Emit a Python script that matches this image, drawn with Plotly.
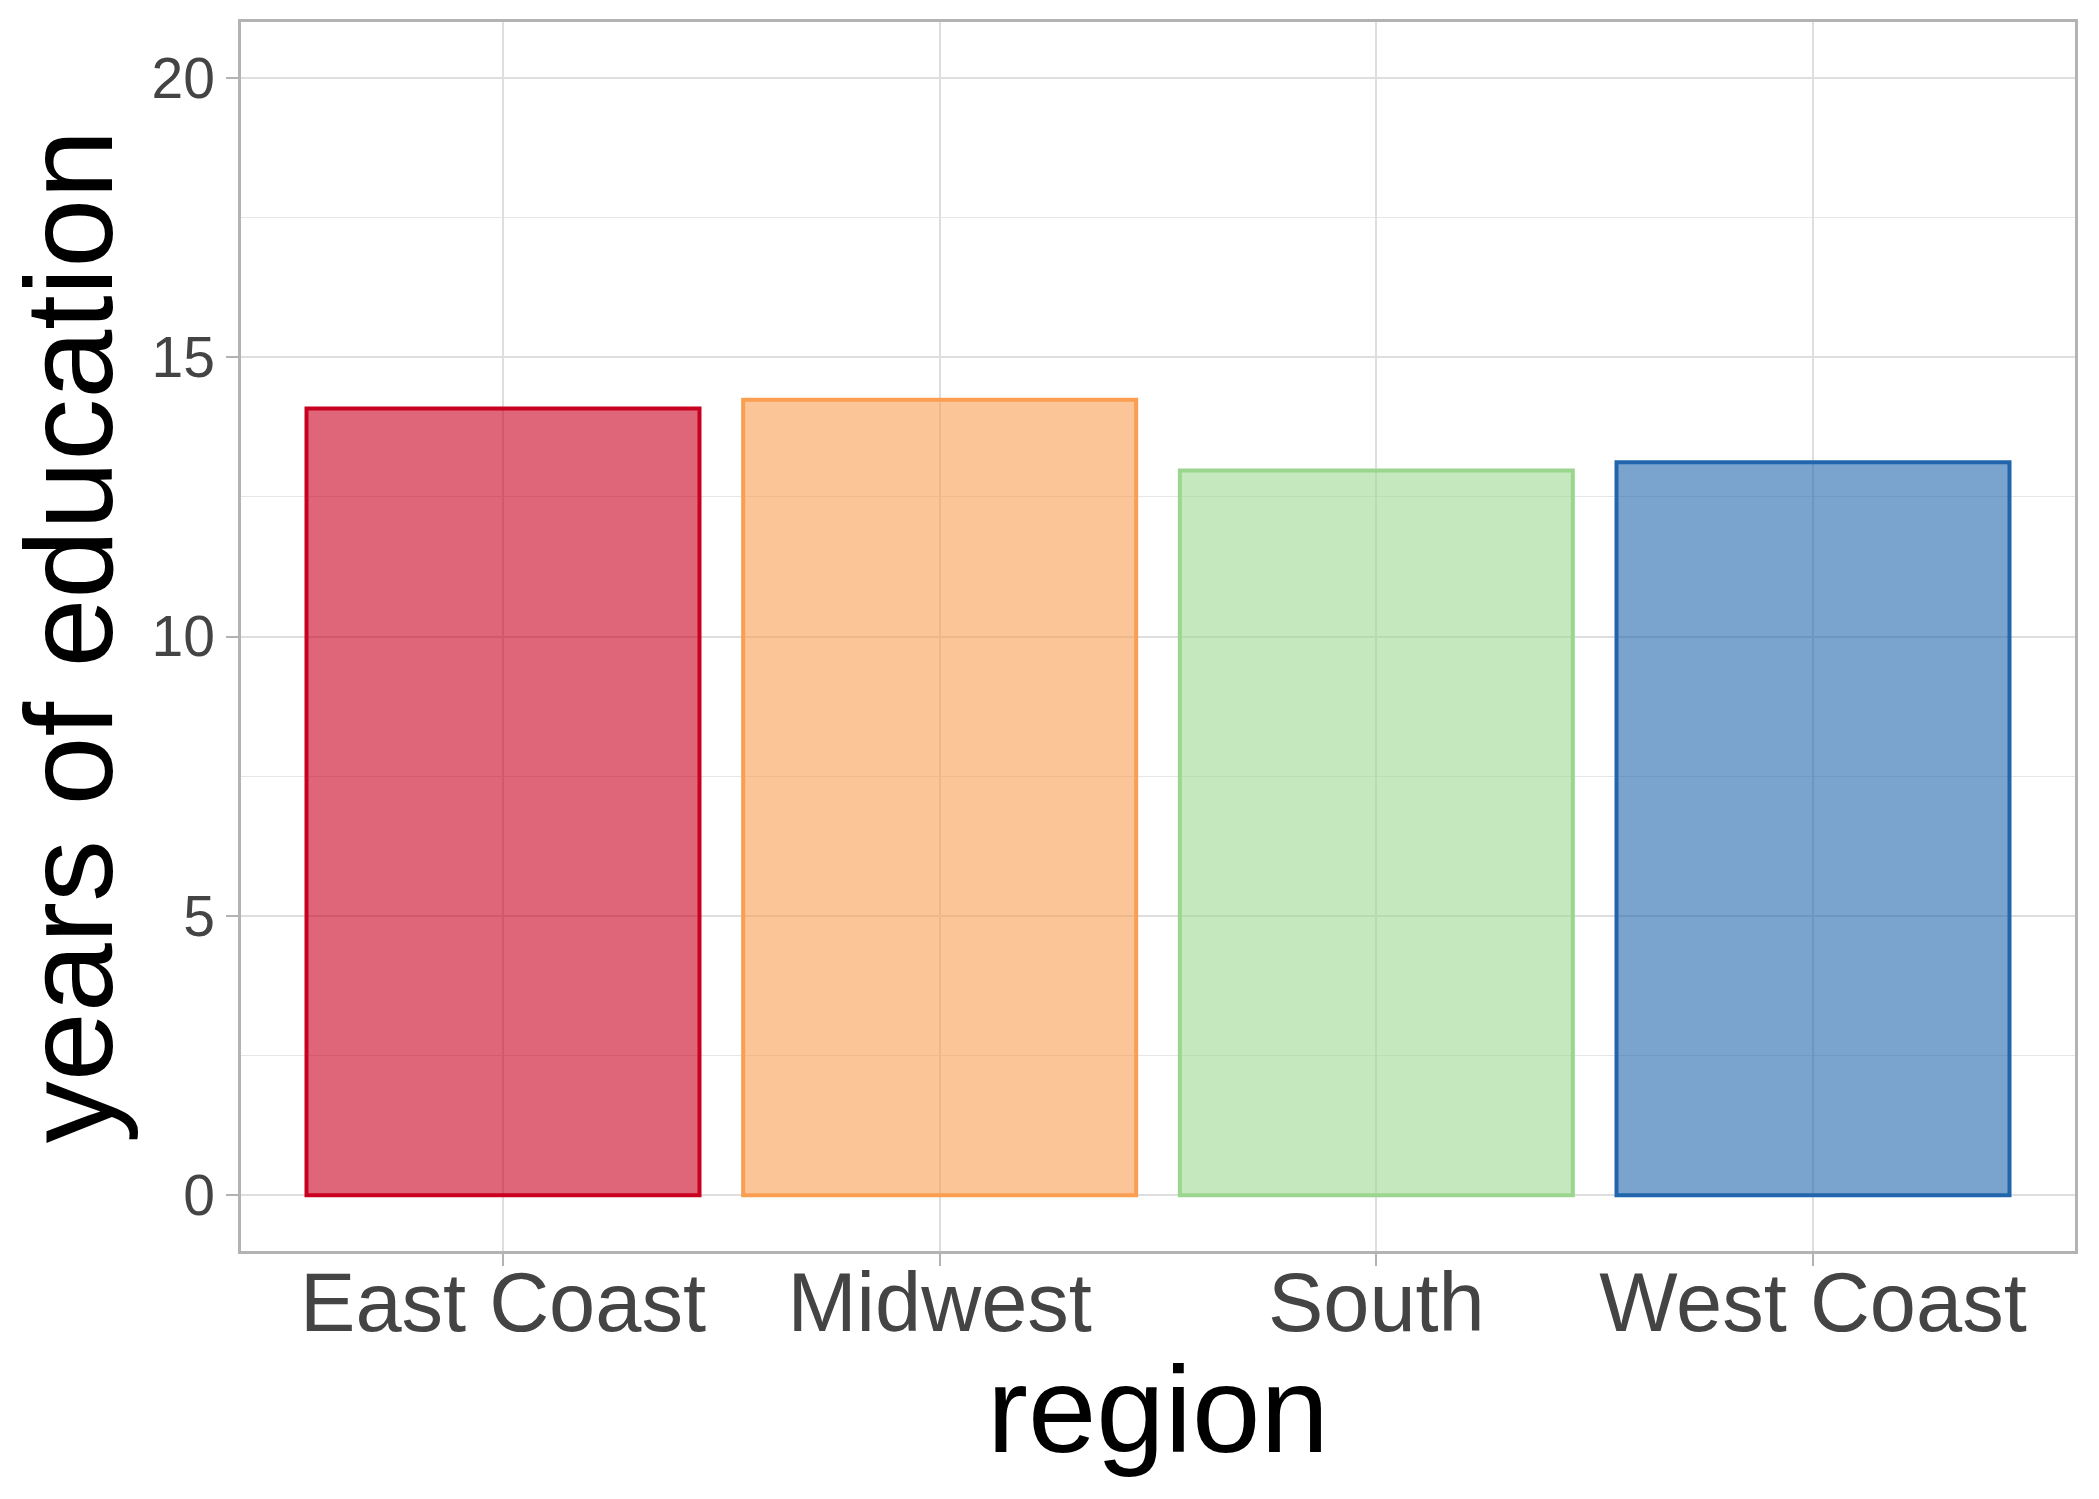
import plotly.graph_objects as go

regions = ["East Coast", "Midwest", "South", "West Coast"]
years = [14.08, 14.24, 12.97, 13.12]
line_colors = ["#ca0020", "#fa9f52", "#9ad68e", "#2166ac"]
fill_colors = ["rgba(202,0,32,0.6)", "rgba(250,159,82,0.6)", "rgba(159,217,148,0.6)", "rgba(33,102,172,0.6)"]
y_ticks = [0, 5, 10, 15, 20]
x_title = "region"
y_title = "years of education"

fig = go.Figure()
fig.add_trace(go.Bar(
    x=regions, y=years, width=0.9,
    marker=dict(color=fill_colors, line=dict(color=line_colors, width=4)),
    showlegend=False,
))

FONT = "Liberation Sans, Arial, Helvetica, sans-serif"

fig.update_layout(
    width=2099, height=1499,
    margin=dict(l=241, r=24, t=22, b=248, autoexpand=False),
    paper_bgcolor="white", plot_bgcolor="white",
    font=dict(family=FONT),
    bargap=0.1,
)

fig.add_annotation(
    text=x_title, xref="paper", yref="paper", x=0.5, y=0,
    xanchor="center", yanchor="bottom", yshift=-229, showarrow=False,
    font=dict(size=123, color="black", family=FONT),
)

fig.update_xaxes(
    range=[-0.6, 3.6],
    showgrid=True, gridcolor="#dedede", gridwidth=2,
    showline=True, linecolor="#b3b3b3", linewidth=2.5, mirror=True,
    ticks="outside", ticklen=12, tickwidth=2, tickcolor="#b3b3b3",
    ticklabelstandoff=-34,
    tickfont=dict(size=83, color="#444444", family=FONT),
    automargin=False, zeroline=False,
)
fig.update_yaxes(
    range=[-1, 21],
    tickvals=y_ticks, ticktext=[str(v) for v in y_ticks],
    showgrid=True, gridcolor="#dedede", gridwidth=2,
    minor=dict(tickvals=[2.5, 7.5, 12.5, 17.5], showgrid=True, gridcolor="#e6e6e6", gridwidth=1),
    showline=True, linecolor="#b3b3b3", linewidth=2.5, mirror=True,
    ticks="outside", ticklen=12, tickwidth=2, tickcolor="#b3b3b3",
    tickfont=dict(size=57, color="#444444", family=FONT),
    title=dict(text=y_title, font=dict(size=124, color="black", family=FONT), standoff=10),
    automargin=False, zeroline=False,
)

fig.write_html("out.html")
